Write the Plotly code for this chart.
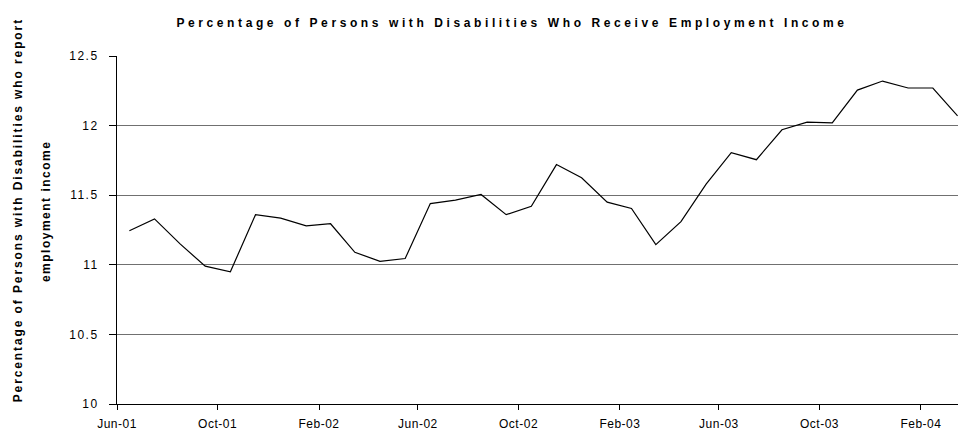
import plotly.graph_objects as go

months = [
    "2001-06", "2001-07", "2001-08", "2001-09", "2001-10", "2001-11", "2001-12",
    "2002-01", "2002-02", "2002-03", "2002-04", "2002-05", "2002-06", "2002-07",
    "2002-08", "2002-09", "2002-10", "2002-11", "2002-12",
    "2003-01", "2003-02", "2003-03", "2003-04", "2003-05", "2003-06", "2003-07",
    "2003-08", "2003-09", "2003-10", "2003-11", "2003-12",
    "2004-01", "2004-02", "2004-03",
]
values = [
    11.245, 11.33, 11.15, 10.99, 10.95, 11.36, 11.335,
    11.28, 11.295, 11.09, 11.025, 11.045, 11.44, 11.465,
    11.505, 11.36, 11.42, 11.72, 11.625,
    11.45, 11.405, 11.145, 11.31, 11.58, 11.805, 11.755,
    11.97, 12.025, 12.02, 12.255, 12.32,
    12.27, 12.27, 12.07,
]

title_text = "Percentage of Persons with Disabilities Who Receive Employment Income"
ytitle_line1 = "Percentage of Persons with Disabilities who report"
ytitle_line2 = "employment income"

FONT = "Liberation Sans, Arial, sans-serif"

fig = go.Figure()
fig.add_trace(go.Scatter(
    x=months, y=values, mode="lines",
    xperiod="M1", xperiodalignment="middle",
    line=dict(color="#000000", width=1.2),
    showlegend=False, hoverinfo="x+y",
))

fig.update_layout(
    width=958, height=431,
    margin=dict(l=117, r=0, t=56, b=25),
    paper_bgcolor="white", plot_bgcolor="white",
    font=dict(family=FONT, color="#000000", size=12),
    title=dict(
        text="<b>" + title_text + "</b>",
        x=512 / 958, xanchor="center", xref="container",
        y=1 - 22.5 / 431, yanchor="middle", yref="container",
        font=dict(family=FONT, size=12, color="#000000"),
    ),
    xaxis=dict(
        type="date",
        range=["2001-06-01", "2004-03-17"],
        tick0="2001-06-01", dtick="M4", tickformat="%b-%y",
        ticks="outside", ticklen=5, tickcolor="#000000", tickwidth=1,
        ticklabelstandoff=4,
        showline=True, linecolor="#000000", linewidth=1,
        showgrid=False, zeroline=False,
        tickfont=dict(family=FONT, size=12, color="#000000"),
    ),
    yaxis=dict(
        range=[10, 12.5], dtick=0.5, tick0=10,
        ticks="outside", ticklen=7, tickcolor="#000000", tickwidth=1,
        ticklabelstandoff=8,
        showline=True, linecolor="#000000", linewidth=1,
        showgrid=True, gridcolor="#707070", gridwidth=1,
        zeroline=False,
        tickfont=dict(family=FONT, size=12, color="#000000"),
    ),
    annotations=[
        dict(text="<b>" + ytitle_line1 + "</b>", textangle=-90,
             xref="paper", yref="paper", x=(18 - 117) / 841, y=(405.5 - 211.5) / 349.5,
             xanchor="center", yanchor="middle", showarrow=False,
             font=dict(family=FONT, size=12, color="#000000")),
        dict(text="<b>" + ytitle_line2 + "</b>", textangle=-90,
             xref="paper", yref="paper", x=(46 - 117) / 841, y=(405.5 - 212) / 349.5,
             xanchor="center", yanchor="middle", showarrow=False,
             font=dict(family=FONT, size=12, color="#000000")),
    ],
)

post = """
(function(){
  document.body.style.margin='0';
  document.body.style.padding='0';
  var gd = document.getElementById('{plot_id}');
  function sp(){
    gd.querySelectorAll('.gtitle').forEach(function(e){ e.style.letterSpacing='3.6px'; });
    var ann = gd.querySelectorAll('.annotation-text');
    if (ann[0]) ann[0].style.letterSpacing='1.9px';
    if (ann[1]) ann[1].style.letterSpacing='1.5px';
    gd.querySelectorAll('.ytick text').forEach(function(e){ e.style.letterSpacing='1.5px'; });
    gd.querySelectorAll('.xtick text').forEach(function(e){ e.style.letterSpacing='0.5px'; });
  }
  sp();
  if (gd.on) { gd.on('plotly_afterplot', sp); }
  setTimeout(sp, 50);
})();
"""

fig.write_html("out.html", post_script=post, config={"displayModeBar": False})
